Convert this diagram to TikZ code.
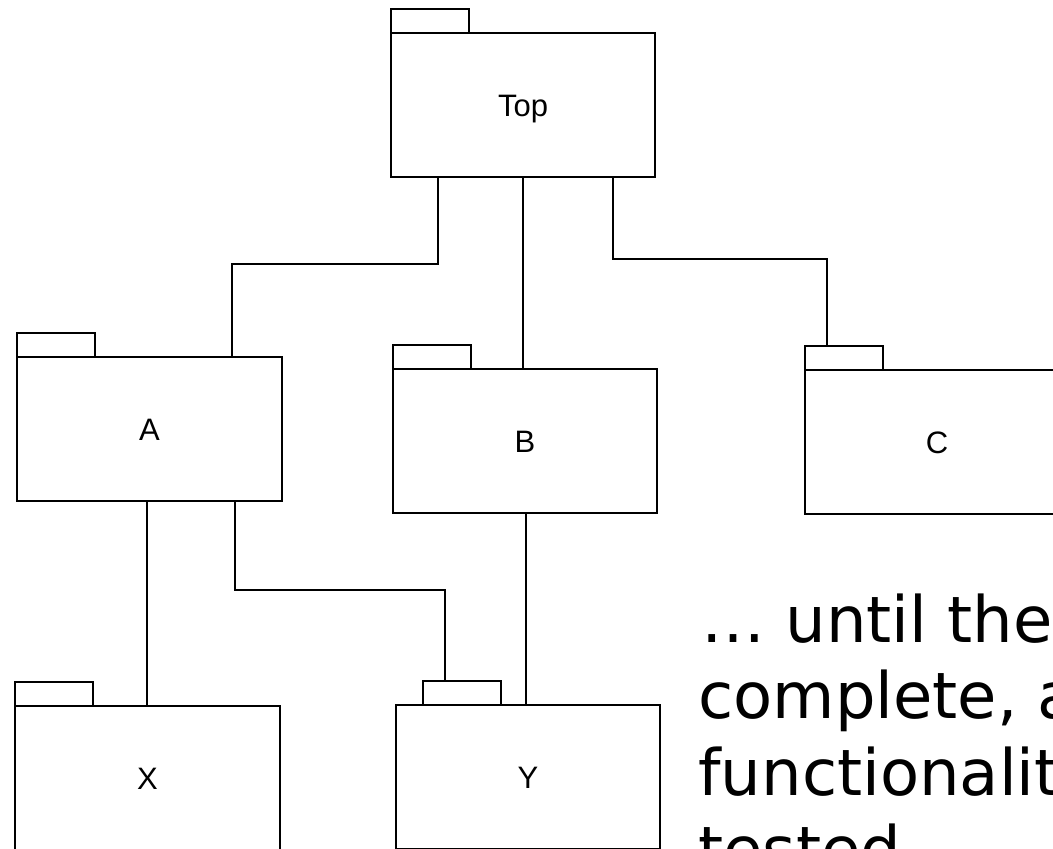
\documentclass[tikz,border=0pt]{standalone}
\usepackage{fontspec}
\setmainfont{Liberation Sans}
\newfontfamily\bigfont{DejaVu Sans}
\begin{document}
\begin{tikzpicture}[x=1pt,y=-1pt,
  line width=2.8pt,
  pkgbody/.style={draw, rectangle, anchor=north west, minimum width=265pt, minimum height=144pt,
    inner sep=0pt, outer sep=0pt, font=\fontsize{31}{36}\selectfont, text height=22pt, text depth=0pt},
  pkgtab/.style={draw, rectangle, anchor=south west, minimum width=78pt, minimum height=24pt,
    inner sep=0pt, outer sep=0pt},
  conn/.style={draw, line width=2.8pt},
  bigtext/.style={anchor=base west, inner sep=0pt, font=\bigfont\fontsize{64}{77}\selectfont}]
\path[use as bounding box] (0,0) rectangle (1053,849);
\clip (0,0) rectangle (1053,849);
\fill[white] (0,0) rectangle (1053,849);

% packages
\node[pkgbody, minimum width=264pt] (Top) at (391,33) {Top};
\node[pkgtab] (Toptab) at (Top.north west) {};

\node[pkgbody] (A) at (17,357) {A};
\node[pkgtab] (Atab) at (A.north west) {};

\node[pkgbody, minimum width=264pt] (B) at (393,369) {B};
\node[pkgtab] (Btab) at (B.north west) {};

\node[pkgbody] (C) at (805,370) {};
\node[font=\fontsize{31}{36}\selectfont, text height=22pt, text depth=0pt, inner sep=0pt] (Clabel) at (937,442) {C};
\node[pkgtab] (Ctab) at (C.north west) {};

\node[pkgbody] (X) at (15,706) {X};
\node[pkgtab] (Xtab) at (X.north west) {};

\node[pkgbody, minimum width=264pt] (Y) at (396,705) {Y};
\node[pkgtab] (Ytab) at ([xshift=27pt]Y.north west) {};

% connectors
\draw[conn] ([xshift=47pt]Top.south west) -- ++(0,87) -| ([xshift=215pt]A.north west);
\draw[conn] ([xshift=132pt]Top.south west) -- ([xshift=130pt]B.north west);
\draw[conn] ([xshift=222pt]Top.south west) -- ++(0,82) -| ([xshift=22pt]Ctab.north west);
\draw[conn] ([xshift=130pt]A.south west) -- ([xshift=132pt]X.north west);
\draw[conn] ([xshift=218pt]A.south west) -- ++(0,89) -| ([xshift=22pt]Ytab.north west);
\draw[conn] ([xshift=133pt]B.south west) -- ([xshift=130pt]Y.north west);

% text
\node[bigtext] (t1) at (700,642) {… until the};
\node[bigtext] (t2) at (697,718) {complete, a};
\node[bigtext] (t3) at (697,795) {functionalit};
\node[bigtext] (t4) at (697,872) {tested};
\end{tikzpicture}
\end{document}
